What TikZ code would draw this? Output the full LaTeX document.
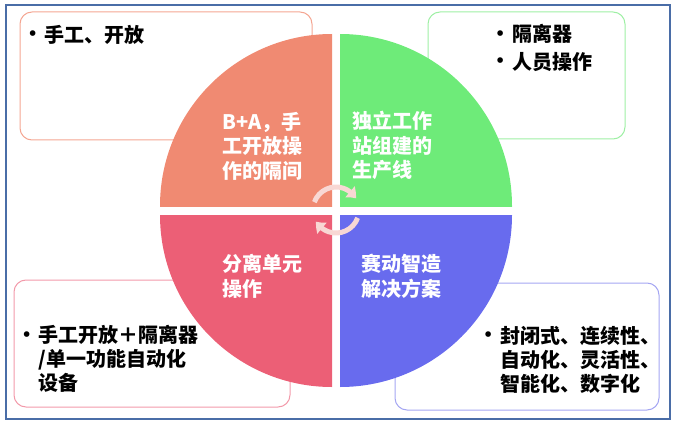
\documentclass[tikz,border=0pt]{standalone}
\usepackage{fontspec}
\newfontfamily\cjk{Noto Sans CJK SC}
\newfontfamily\symf{DejaVu Sans}
\usetikzlibrary{arrows.meta,bending}
\definecolor{framec}{HTML}{4A6DA7}
\definecolor{qorange}{HTML}{F08A72}
\definecolor{qgreen}{HTML}{6EEB79}
\definecolor{qpink}{HTML}{EC5F76}
\definecolor{qblue}{HTML}{686BEE}
\definecolor{borange}{HTML}{F4A692}
\definecolor{bgreen}{HTML}{9EEFA4}
\definecolor{bpink}{HTML}{F29AAA}
\definecolor{bblue}{HTML}{A4A6F2}
\definecolor{arrowc}{HTML}{F8D8D4}
\newcommand\mybul{\raisebox{2.5pt}{\symf\fontsize{16}{24}\selectfont•}\hspace{7pt}}
\newcommand\myind{\hphantom{\mybul}}
\begin{document}
\begin{tikzpicture}[x=1pt,y=-1pt,
  infobox/.style={line width=1pt, rounded corners=12pt},
  qtext/.style={anchor=north west, inner sep=0pt, text=white, align=left,
    font=\cjk\bfseries\fontsize{20}{24.5}\selectfont},
  btext/.style={anchor=north west, inner sep=0pt, text=black, align=left,
    font=\cjk\bfseries\fontsize{20}{24}\selectfont},
  cyc/.style={arrowc, line width=5pt, -{Triangle[width=14pt,length=9pt,bend]}}]
\useasboundingbox (0,0) rectangle (677,425);
\draw[framec, line width=1.2pt] (6,5) rectangle (670,419);
% info boxes
\draw[infobox, borange] (20,12) rectangle (312,140);
\draw[infobox, bgreen] (428,12) rectangle (625,139);
\draw[infobox, bpink] (14,280) rectangle (290,407);
\draw[infobox, bblue] (395,283) rectangle (659,410);
% quadrants
\begin{scope}\clip (0,0) rectangle (332,206);
  \fill[qorange] (332,206) circle[radius=172pt];\end{scope}
\begin{scope}\clip (340,0) rectangle (677,206);
  \fill[qgreen] (340,206) circle[radius=172pt];\end{scope}
\begin{scope}\clip (0,215) rectangle (332,425);
  \fill[qpink] (332,215) circle[radius=172pt];\end{scope}
\begin{scope}\clip (340,215) rectangle (677,425);
  \fill[qblue] (340,215) circle[radius=172pt];\end{scope}
% cycle arrows
\begin{scope}[shift={(336,210)}, y=1pt]
  \draw[cyc] (160:23pt) arc[start angle=160, end angle=30, radius=23pt];
  \draw[cyc] (-20:23pt) arc[start angle=-20, end angle=-150, radius=23pt];
\end{scope}
% quadrant texts
\node[qtext] (tOrange) at (222,112) {B+A，手\\工开放操\\作的隔间};
\node[qtext] (tGreen) at (352,111) {独立工作\\站组建的\\生产线};
\node[qtext] (tPink) at (222,254) {分离单元\\操作};
\node[qtext] (tBlue) at (361,254) {赛动智造\\解决方案};
% box texts
\node[btext] (x1) at (27.5,25) {\mybul 手工、开放};
\node[btext] (x2) at (495,24) {\mybul 隔离器};
\node[btext] (x3) at (495,52) {\mybul 人员操作};
\node[btext] (x4) at (21.5,325) {\mybul 手工开放＋隔离器\\\myind /单一功能自动化\\\myind 设备};
\node[btext] (x5) at (483,326) {\mybul 封闭式、连续性、\\\myind 自动化、灵活性、\\\myind 智能化、数字化};
\end{tikzpicture}
\end{document}
